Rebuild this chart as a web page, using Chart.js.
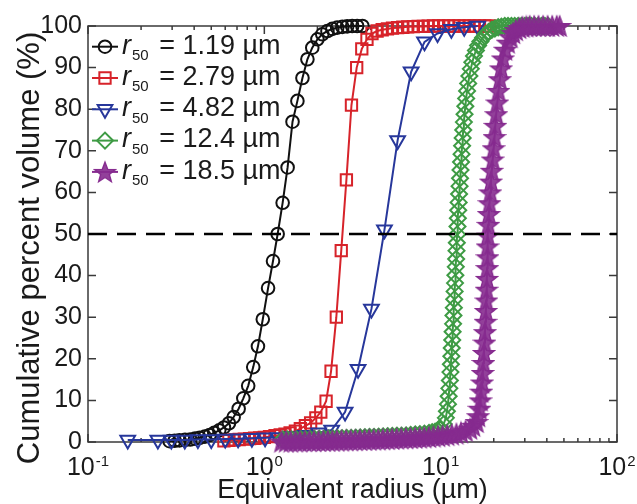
<!DOCTYPE html>
<html>
<head>
<meta charset="utf-8">
<script src="https://cdn.jsdelivr.net/npm/chart.js@4.4.0/dist/chart.umd.min.js"></script>
<style>
  html, body { margin: 0; padding: 0; background: #fff; }
</style>
</head>
<body>
<canvas id="psd" width="637" height="504"></canvas>
<script>
// legend values (median radius, µm)
const r50Labels = ['1.19', '2.79', '4.82', '12.4', '18.5'];
const seriesColors = ['#111111', '#d7232a', '#27379b', '#3e9b44', '#862b8f'];

// r50 = 1.19 µm
const blackX = [0.29, 0.31, 0.33, 0.355, 0.38, 0.405, 0.43, 0.46, 0.49, 0.52, 0.555, 0.59, 0.63, 0.67, 0.715, 0.76, 0.81, 0.865, 0.92, 0.98,
  1.05, 1.12, 1.19, 1.27, 1.355, 1.445, 1.54, 1.645, 1.755, 1.87, 2.0, 2.13, 2.28, 2.43, 2.59, 2.77, 2.95, 3.15, 3.36, 3.6];
const blackY = [0.2, 0.3, 0.4, 0.5, 0.6, 0.8, 1.0, 1.3, 1.7, 2.2, 2.8, 3.5, 4.5, 6.0, 8.0, 10.5, 13.5, 18, 23, 29.5,
  37, 43.5, 50, 57.5, 66, 77, 82, 87.5, 92, 94.8, 96.8, 98, 98.8, 99.3, 99.6, 99.8, 99.9, 100, 100, 100];

// r50 = 2.79 µm
const redX = [0.59, 0.63, 0.675, 0.72, 0.77, 0.825, 0.88, 0.94, 1.0, 1.07, 1.15, 1.23, 1.31, 1.40, 1.50, 1.60, 1.71, 1.83, 1.96, 2.09,
  2.24, 2.39, 2.56, 2.73, 2.92, 3.12, 3.34, 3.57, 3.82, 4.08, 4.36, 4.66, 4.99, 5.33, 5.7, 6.1, 6.5, 7.0, 7.45, 7.97,
  8.5, 9.1, 9.75, 10.4, 11.1, 11.9, 12.7, 13.6, 14.5, 15.5, 16.6, 17.8, 19.0];
const redY = [0.3, 0.4, 0.5, 0.6, 0.7, 0.8, 0.9, 1.0, 1.1, 1.3, 1.5, 1.7, 1.9, 2.2, 2.6, 3.2, 3.9, 4.6, 5.8, 7.2,
  9.8, 17, 30, 46, 63, 81, 90, 94.5, 96.8, 98.2, 98.8, 99.1, 99.3, 99.5, 99.6, 99.7, 99.8, 99.85, 99.9, 99.9,
  99.95, 100, 100, 100, 100, 100, 100, 100, 100, 100, 100, 100, 100];

// r50 = 4.82 µm
const blueX = [0.168, 0.249, 0.297, 0.354, 0.42, 0.5, 0.6, 0.71, 0.85, 1.01, 1.2, 1.43, 1.7, 2.03, 2.41, 2.87, 3.4, 4.05, 4.8, 5.7,
  6.8, 8.1, 9.6, 11.5, 13.6, 16.2];
const blueY = [0.5, 0.5, 0.5, 0.5, 0.6, 0.6, 0.7, 0.8, 0.9, 1.0, 1.1, 1.3, 1.6, 2.2, 2.9, 7.2, 17.5, 32, 51, 72.5,
  89, 96.2, 98.2, 99.2, 99.7, 100];

// r50 = 12.4 µm
const greenX = [1.27, 1.35, 1.43, 1.52, 1.61, 1.71, 1.82, 1.93, 2.05, 2.18, 2.31, 2.45, 2.6, 2.76, 2.93, 3.11, 3.3, 3.5, 3.72, 3.95,
  4.19, 4.45, 4.72, 5.01, 5.32, 5.65, 6.0, 6.37, 6.76, 7.18, 7.62, 8.09, 8.59, 8.95, 9.3, 9.65,
  9.95, 10.4, 10.7, 10.85, 11.0, 11.1, 11.2, 11.28, 11.36, 11.43, 11.5, 11.56, 11.63, 11.69, 11.76, 11.82, 11.88, 11.94, 12.0, 12.06,
  12.12, 12.18, 12.24, 12.3, 12.35, 12.4, 12.46, 12.52, 12.58, 12.65, 12.72, 12.8, 12.88, 12.96, 13.05, 13.14, 13.23, 13.33, 13.43, 13.54,
  13.66, 13.8, 13.95, 14.12, 14.32, 14.55, 14.82, 15.12, 15.45, 15.85, 16.3, 16.8, 17.4, 18.0, 18.7, 19.5, 20.3, 21.2, 22.1, 23.1,
  24.1, 25.2, 26.3, 27.5, 28.7, 30.0, 31.3, 32.7, 34.2, 35.7, 37.3, 39.0, 40.7];
const greenY = [0.6, 0.6, 0.65, 0.65, 0.7, 0.7, 0.75, 0.75, 0.8, 0.8, 0.85, 0.85, 0.9, 0.95, 1.0, 1.0, 1.05, 1.1, 1.15, 1.2,
  1.25, 1.3, 1.35, 1.4, 1.45, 1.5, 1.55, 1.6, 1.7, 1.8, 1.9, 2.0, 2.2, 2.35, 2.5, 2.7,
  3.0, 4.3, 5.8, 7.4, 9.1, 11.0, 12.9, 14.8, 16.8, 18.7, 20.6, 22.6, 24.5, 26.5, 28.4, 30.4, 32.3, 34.3, 36.2, 38.2,
  40.1, 42.1, 44.0, 46.0, 47.9, 49.9, 51.8, 53.8, 55.7, 57.6, 59.6, 61.5, 63.4, 65.4, 67.3, 69.2, 71.2, 73.1, 75.0, 76.9,
  78.8, 80.7, 82.6, 84.4, 86.2, 88.0, 89.7, 91.3, 92.8, 94.1, 95.3, 96.3, 97.2, 98.0, 98.6, 99.1, 99.4, 99.7, 99.85, 100,
  100, 100, 100, 100, 100, 100, 100, 100, 100, 100, 100, 100, 100];

// r50 = 18.5 µm
const purpleX = [1.25, 1.33, 1.41, 1.5, 1.59, 1.69, 1.8, 1.91, 2.03, 2.16, 2.29, 2.43, 2.58, 2.74, 2.91, 3.09, 3.28, 3.48, 3.7, 3.93,
  4.17, 4.43, 4.7, 4.99, 5.3, 5.63, 5.98, 6.35, 6.74, 7.16, 7.6, 8.07, 8.57, 9.1, 9.66, 10.26, 10.9, 11.57, 12.28, 13.04,
  13.85, 14.68, 15.27, 15.98, 16.3, 16.6, 16.84, 17.0, 17.17, 17.33, 17.48, 17.6, 17.72, 17.84, 17.96, 18.06, 18.16, 18.23, 18.3, 18.37,
  18.42, 18.46, 18.5, 18.62, 18.76, 18.91, 19.11, 19.29, 19.5, 19.73, 19.98, 20.2, 20.41, 20.65, 20.95, 21.28, 21.66, 22.0, 22.54, 23.2,
  24.0, 24.9, 25.75, 26.7, 27.9, 29.1, 30.6, 32.0, 33.9, 35.9, 38.1, 40.4, 42.9, 45.5, 47.3];
const purpleY = [0.1, 0.1, 0.1, 0.15, 0.15, 0.2, 0.2, 0.2, 0.25, 0.25, 0.3, 0.3, 0.35, 0.35, 0.4, 0.4, 0.45, 0.5, 0.5, 0.55,
  0.6, 0.6, 0.65, 0.7, 0.75, 0.8, 0.85, 0.9, 0.95, 1.0, 1.05, 1.1, 1.2, 1.3, 1.4, 1.5, 1.65, 1.8, 2.0, 2.3,
  2.7, 3.2, 3.9, 4.8, 6.2, 8.0, 10.0, 12.1, 14.3, 16.6, 19.0, 21.4, 23.9, 26.4, 28.9, 31.5, 34.0, 36.6, 39.2, 41.8,
  44.4, 47.0, 49.6, 52.2, 54.8, 57.4, 60.0, 62.6, 65.2, 67.9, 70.6, 73.3, 76.0, 78.8, 81.6, 84.4, 87.2, 89.8, 92.2, 94.3,
  96.0, 97.3, 98.3, 99.0, 99.5, 99.8, 99.9, 100, 100, 100, 100, 100, 100, 100, 100];

const xTickValues = [0.1, 1, 10, 100];
const xTickExp = ['-1', '0', '1', '2'];
const xMinorFactors = [2, 3, 4, 5, 6, 7, 8, 9];
const yTickStep = 10;
const refLineX = [0.1, 100];
const refLineY = [50, 50];
const yTitle = 'Cumulative percent volume (%)';

const FONT = '"Liberation Sans", Arial, Helvetica, sans-serif';

function pts(xs, ys) {
    return xs.map((x, i) => ({ x: x, y: ys[i] }));
}

// filled pentagram marker, like the matlab 'p' marker
function makeStar(color, size) {
    const c = document.createElement('canvas');
    c.width = size; c.height = size;
    const g = c.getContext('2d');
    const cx = size / 2, cy = size / 2 + 1;
    const R = size / 2 - 1.2, r = R * 0.42;
    g.beginPath();
    for (let i = 0; i < 10; i++) {
        const a = -Math.PI / 2 + i * Math.PI / 5;
        const rr = i % 2 ? r : R;
        g.lineTo(cx + rr * Math.cos(a), cy + rr * Math.sin(a));
    }
    g.closePath();
    g.fillStyle = color;
    g.globalAlpha = 0.9;
    g.fill();
    g.globalAlpha = 1;
    g.strokeStyle = color;
    g.lineWidth = 1.4;
    g.stroke();
    return c;
}

const starImg = makeStar(seriesColors[4], 24);

function series(i, xs, ys, style, radius, rotation) {
    return {
        label: 'r50 = ' + r50Labels[i] + ' µm',
        data: pts(xs, ys),
        borderColor: seriesColors[i],
        backgroundColor: 'rgba(0,0,0,0)',
        borderWidth: 2,
        pointStyle: style,
        pointRadius: radius,
        pointRotation: rotation || 0,
        pointBorderWidth: 2,
        pointBorderColor: seriesColors[i],
        pointBackgroundColor: 'rgba(0,0,0,0)',
        tension: 0,
        clip: false,
        order: 5 - i
    };
}

// frame + inward ticks, drawn under the data like matlab does
const framePlugin = {
    id: 'frame',
    beforeDatasetsDraw(chart) {
        const { ctx, chartArea: a } = chart;
        const xs = chart.scales.x, ys = chart.scales.y;
        ctx.save();
        ctx.strokeStyle = '#3a3a3a';
        ctx.lineWidth = 1.5;
        ctx.strokeRect(a.left, a.top, a.right - a.left, a.bottom - a.top);
        ctx.beginPath();
        for (let v = 0; v <= 100; v += yTickStep) {
            const py = ys.getPixelForValue(v);
            ctx.moveTo(a.left, py); ctx.lineTo(a.left + 8, py);
            ctx.moveTo(a.right, py); ctx.lineTo(a.right - 8, py);
        }
        xTickValues.forEach((v, k) => {
            const px = xs.getPixelForValue(v);
            ctx.moveTo(px, a.bottom); ctx.lineTo(px, a.bottom - 8);
            ctx.moveTo(px, a.top); ctx.lineTo(px, a.top + 8);
            if (k < xTickValues.length - 1) {
                xMinorFactors.forEach(f => {
                    const pm = xs.getPixelForValue(v * f);
                    ctx.moveTo(pm, a.bottom); ctx.lineTo(pm, a.bottom - 4);
                    ctx.moveTo(pm, a.top); ctx.lineTo(pm, a.top + 4);
                });
            }
        });
        ctx.stroke();
        ctx.restore();
    },
    afterDatasetsDraw(chart) {
        const { ctx, chartArea: a } = chart;
        const xs = chart.scales.x;
        ctx.save();
        ctx.fillStyle = '#1a1a1a';
        ctx.textBaseline = 'alphabetic';
        ctx.textAlign = 'left';
        // x tick labels 10^n
        xTickValues.forEach((v, k) => {
            const px = xs.getPixelForValue(v);
            ctx.font = '25px ' + FONT;
            const w1 = ctx.measureText('10').width;
            ctx.font = '15px ' + FONT;
            const w2 = ctx.measureText(xTickExp[k]).width;
            const x0 = px - (w1 + w2 + 1) / 2;
            ctx.font = '25px ' + FONT;
            ctx.fillText('10', x0, a.bottom + 33);
            ctx.font = '15px ' + FONT;
            ctx.fillText(xTickExp[k], x0 + w1 + 1, a.bottom + 24);
        });

        // y axis title
        ctx.save();
        ctx.translate(30, 248);
        ctx.rotate(-Math.PI / 2);
        ctx.textAlign = 'center';
        ctx.textBaseline = 'middle';
        ctx.font = '31px ' + FONT;
        ctx.fillText(yTitle, 0, 0);
        ctx.restore();

        // legend
        chart.data.datasets.forEach((ds, i) => {
            if (i >= r50Labels.length) return;
            const y = a.top + 20.7 + i * 31.3;
            ctx.strokeStyle = ds.borderColor;
            ctx.lineWidth = 2;
            ctx.beginPath();
            ctx.moveTo(a.left + 4, y); ctx.lineTo(a.left + 30, y);
            ctx.stroke();
            ctx.fillStyle = 'rgba(0,0,0,0)';
            Chart.helpers.drawPoint(ctx, {
                pointStyle: ds.pointStyle, radius: ds.pointRadius,
                rotation: ds.pointRotation, borderWidth: ds.pointBorderWidth
            }, a.left + 17, y);
            ctx.fillStyle = '#1a1a1a';
            let tx = a.left + 34;
            const base = y + 6.8;
            ctx.font = 'italic 27px ' + FONT;
            ctx.fillText('r', tx, base);
            tx += ctx.measureText('r').width + 1;
            ctx.font = '15px ' + FONT;
            ctx.fillText('50', tx, base + 6.5);
            tx += ctx.measureText('50').width + 3;
            ctx.font = '27px ' + FONT;
            ctx.fillText(' = ' + r50Labels[i] + ' µm', tx, base);
        });
        ctx.restore();
    }
};

new Chart(document.getElementById('psd'), {
    type: 'line',
    data: {
        datasets: [
            series(0, blackX, blackY, 'circle', 6.3),
            series(1, redX, redY, 'rect', 8),
            series(2, blueX, blueY, 'triangle', 8.5, 180),
            series(3, greenX, greenY, 'rectRot', 8),
            series(4, purpleX, purpleY, starImg, 12),
            {
                label: '50 %',
                data: pts(refLineX, refLineY),
                borderColor: '#000',
                borderWidth: 2.5,
                borderDash: [19, 10],
                pointRadius: 0,
                clip: false,
                order: 0
            }
        ]
    },
    options: {
        responsive: false,
        animation: false,
        devicePixelRatio: 1,
        layout: { padding: { left: 0, right: 20, top: 26, bottom: 0 } },
        plugins: {
            legend: { display: false },
            tooltip: { enabled: false }
        },
        scales: {
            x: {
                type: 'logarithmic',
                min: 0.1,
                max: 100,
                grid: { display: false, drawTicks: false },
                border: { display: false },
                ticks: { display: false },
                title: {
                    display: true,
                    text: 'Equivalent radius (µm)',
                    color: '#1a1a1a',
                    font: { family: FONT, size: 27, lineHeight: 1 },
                    padding: 0
                },
                afterFit(scale) { scale.height = 62; }
            },
            y: {
                min: 0,
                max: 100,
                grid: { display: false, drawTicks: false },
                border: { display: false },
                ticks: {
                    stepSize: yTickStep,
                    color: '#1a1a1a',
                    padding: 6,
                    font: { family: FONT, size: 25 }
                },
                afterFit(scale) { scale.width = 88; }
            }
        }
    },
    plugins: [framePlugin]
});
</script>
</body>
</html>
